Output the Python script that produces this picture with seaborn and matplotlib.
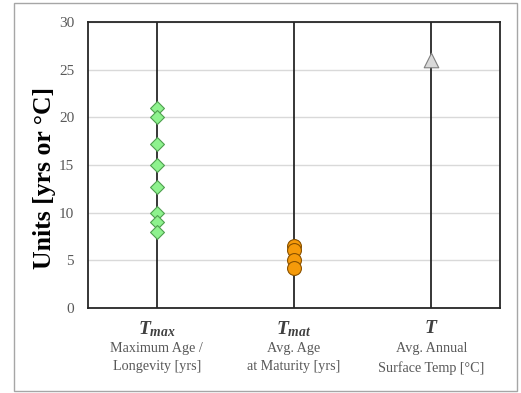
import numpy as np
import pandas as pd
import matplotlib
matplotlib.use("Agg")
import matplotlib.pyplot as plt
import seaborn as sns
from matplotlib.patches import Rectangle

# data
categories = ["Tmax", "Tmat", "T"]
tmax_vals = [21, 20, 17.2, 15, 12.7, 10, 9, 8]
tmat_vals = [6.5, 6.1, 5.0, 4.2]
t_vals = [26]
sym_labels = [r"$\mathit{T}_{\mathit{max}}$", r"$\mathit{T}_{\mathit{mat}}$", r"$\mathit{T}$"]
desc_labels = ["Maximum Age /\nLongevity [yrs]", "Avg. Age\nat Maturity [yrs]", "Avg. Annual\nSurface Temp [°C]"]
y_ticks = [0, 5, 10, 15, 20, 25, 30]

df = pd.DataFrame({
    "cat": ["Tmax"] * len(tmax_vals) + ["Tmat"] * len(tmat_vals) + ["T"] * len(t_vals),
    "val": tmax_vals + tmat_vals + t_vals,
})
df["pos"] = df["cat"].map({c: i for i, c in enumerate(categories)})

sns.set_style("white")
plt.rcParams["font.family"] = ["Liberation Serif", "DejaVu Serif"]
plt.rcParams["mathtext.fontset"] = "custom"
plt.rcParams["mathtext.it"] = "Liberation Serif:italic:bold"
plt.rcParams["mathtext.rm"] = "Liberation Serif:bold"

fig = plt.figure(figsize=(5.21, 3.93), dpi=100)
ax = fig.add_axes([0.169, 0.216, 0.791, 0.728])

# light frame round the whole picture
fig.patches.append(Rectangle((0.027, 0.005), 0.965, 0.987, transform=fig.transFigure,
                             fill=False, edgecolor="#a6a6a6", lw=1.0))

ax.vlines(range(len(categories)), 0, 30, color="#262626", lw=1.3, zorder=1)

styles = {
    "Tmax": dict(marker="D", color="#8ef28e", edgecolor="#4f9e4f", s=50),
    "Tmat": dict(marker="o", color="#f59a0a", edgecolor="#8a5200", s=100),
    "T": dict(marker="^", color="#d9d9d9", edgecolor="#7f7f7f", s=110),
}
for c in categories:
    sub = df[df["cat"] == c]
    sns.scatterplot(data=sub, x="pos", y="val", ax=ax, linewidth=0.8, zorder=3, **styles[c])

ax.set_xlim(-0.5, 2.5)
ax.set_ylim(0, 30)
ax.set_yticks(y_ticks)
ax.yaxis.grid(True, color="#d9d9d9", lw=1.0)
ax.tick_params(axis="y", length=0, pad=10, labelsize=11, labelcolor="#595959")
ax.set_xticks([])
ax.set_xlabel("")
ax.set_ylabel("Units [yrs or °C]", fontsize=18.5, fontweight="bold", color="black")
ax.yaxis.set_label_coords(-0.077, 0.456)
for sp in ax.spines.values():
    sp.set_color("#262626")
    sp.set_linewidth(1.3)

for i in range(len(categories)):
    ax.text(i, -1.2, sym_labels[i], transform=ax.transData, ha="center", va="top",
            fontsize=14, color="#404040")
    ax.text(i, -3.55, desc_labels[i], transform=ax.transData, ha="center", va="top",
            fontsize=10.2, color="#595959", linespacing=1.55)

plt.savefig("out.png", dpi=100)
